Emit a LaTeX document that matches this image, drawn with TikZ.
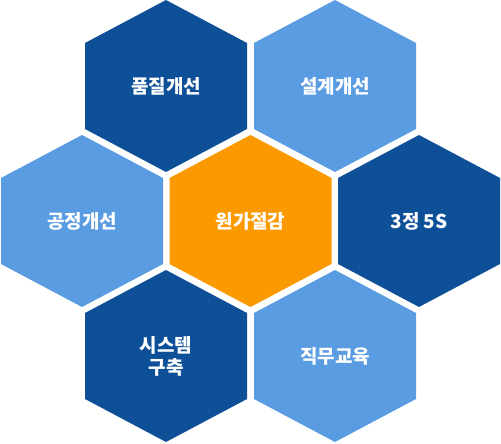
\documentclass[tikz,border=0pt]{standalone}
\usepackage{fontspec}
\setmainfont{Noto Sans CJK KR}
\usepackage{xcolor}
\usepackage{tikz}
\usetikzlibrary{positioning, calc}

\definecolor{darkblue}{RGB}{14,80,152}
\definecolor{lightblue}{RGB}{90,156,226}
\definecolor{costorange}{RGB}{251,154,0}

\begin{document}
\begin{tikzpicture}[
	x=1pt, y=-1pt,
	cell/.style={text=white, font=\fontsize{19}{22}\selectfont\bfseries, align=center}
	]
	
	\useasboundingbox (0,0) rectangle (501,444);
	
	% Hexagons and their labels
	\foreach \name/\cx/\cy/\col/\txt in {
		quality/166/86/darkblue/품질개선,
		design/335/86/lightblue/설계개선,
		process/82/221/lightblue/공정개선,
		cost/250.5/221/costorange/원가절감,
		fives/419/221/darkblue/3정 5S,
		system/166/356/darkblue/{시스템\\구축},
		train/335/356/lightblue/직무교육}
	{
		\fill[\col, shift={(\cx,\cy)}] (0,-86) -- (81,-43) -- (81,43) -- (0,86) -- (-81,43) -- (-81,-43) -- cycle;
		\node[cell] (\name) at (\cx,\cy) {\txt};
	}
	
\end{tikzpicture}
\end{document}
